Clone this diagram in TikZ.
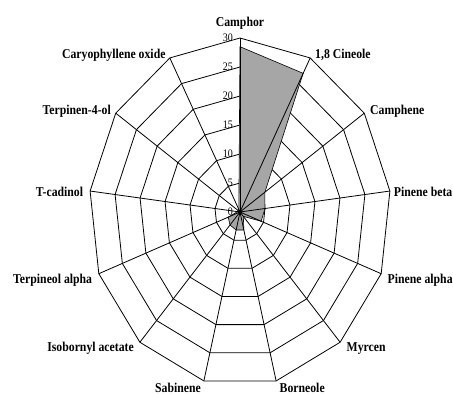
\documentclass[tikz,border=0pt]{standalone}
\usepackage{fontspec}
\setmainfont{Liberation Serif}[FakeStretch=0.87]
\begin{document}
\begin{tikzpicture}[x=1pt,y=-1pt,
  gridline/.style={draw=black,line width=0.8pt,line join=miter},
  spoke/.style={draw=black,line width=0.8pt},
  datafill/.style={fill=black!35,draw=black,line width=0.6pt,line join=miter},
  axislabel/.style={font=\bfseries\fontsize{13.5}{15}\selectfont,inner sep=0pt},
  ticklabel/.style={font=\fontsize{11.5}{13}\selectfont,inner sep=0pt,anchor=east}]
\useasboundingbox (0,0) rectangle (453,394);
\coordinate (c) at (240,212);
% outer vertices and grid level vertices
\foreach \k in {0,...,12}{
  \coordinate (o\k) at ({240+151*sin(\k*360/13)},{212-174*cos(\k*360/13)});
  \foreach \l in {1,...,6}{
    \coordinate (g\l-\k) at ({240+151/6*\l*sin(\k*360/13)},{212-174/6*\l*cos(\k*360/13)});
  }
}
% level polygons
\foreach \l in {1,...,6}{
  \draw[gridline] (g\l-0) -- (g\l-1) -- (g\l-2) -- (g\l-3) -- (g\l-4) -- (g\l-5) -- (g\l-6)
    -- (g\l-7) -- (g\l-8) -- (g\l-9) -- (g\l-10) -- (g\l-11) -- (g\l-12) -- cycle;
}
% data
\foreach \k/\v in {0/28.5,1/27,2/6,3/5,4/4.5,5/1,6/3.2,7/3.2,8/3,9/2.5,10/0.5,11/0.5,12/0.5}{
  \coordinate (d\k) at ({240+151/30*\v*sin(\k*360/13)},{212-174/30*\v*cos(\k*360/13)});
}
\draw[datafill] (d0) -- (d1) -- (d2) -- (d3) -- (d4) -- (d5) -- (d6) -- (d7) -- (d8)
  -- (d9) -- (d10) -- (d11) -- (d12) -- cycle;
% spokes
\foreach \k in {0,...,12}{ \draw[spoke] (c) -- (o\k); }
\fill[black] (c) circle (2);
% tick labels
\node[ticklabel] (t0) at (233,212) {0};
\foreach \l/\t in {1/5,2/10,3/15,4/20,5/25,6/30}{
  \node[ticklabel] (t\t) at (233,{212-29*\l}) {\t};
}
% axis labels
\node[axislabel,anchor=base] (lcamphor) at (240,26) {Camphor};
\node[axislabel,anchor=base west] (lcineole) at (315,58) {1,8 Cineole};
\node[axislabel,anchor=base west] (lcamphene) at (370,114.5) {Camphene};
\node[axislabel,anchor=base east] (lpinb) at (452.5,196) {Pinene beta};
\node[axislabel,anchor=base west] (lpina) at (387.5,283) {Pinene alpha};
\node[axislabel,anchor=base west] (lmyrcen) at (346.5,351) {Myrcen};
\node[axislabel,anchor=base west] (lborneole) at (279.5,392) {Borneole};
\node[axislabel,anchor=base east] (lsabinene) at (201,392) {Sabinene};
\node[axislabel,anchor=base east] (liso) at (134,351) {Isobornyl acetate};
\node[axislabel,anchor=base east] (lterpa) at (92.3,283) {Terpineol alpha};
\node[axislabel,anchor=base east] (ltcad) at (83.3,196) {T-cadinol};
\node[axislabel,anchor=base east] (lterp4) at (111,114.5) {Terpinen-4-ol};
\node[axislabel,anchor=base east] (lcaryo) at (165.7,58) {Caryophyllene oxide};
\end{tikzpicture}
\end{document}
